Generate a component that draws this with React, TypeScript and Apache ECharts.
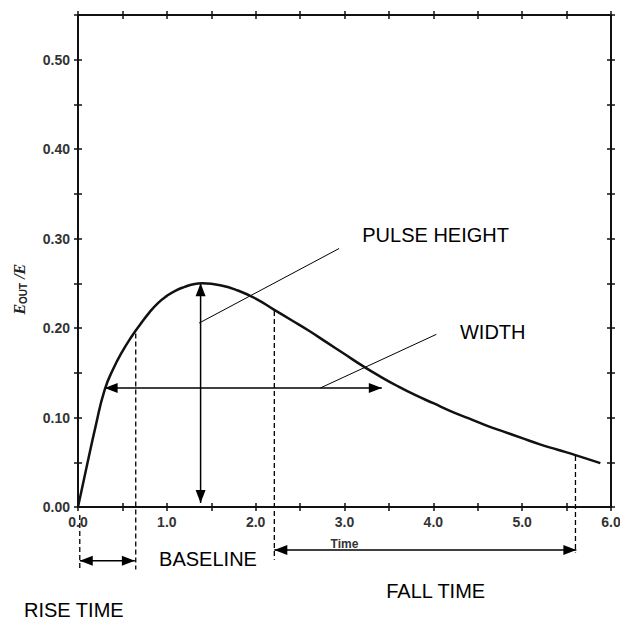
import React, { useEffect, useRef } from 'react';
import * as echarts from 'echarts';

// Curve
const timeValues = [0, 0.1, 0.2, 0.3, 0.4, 0.5, 0.6, 0.7, 0.8, 0.9, 1.0, 1.1, 1.2, 1.3, 1.4, 1.6, 1.8, 2.0, 2.2, 2.4, 2.6, 2.8, 3.0, 3.2, 3.4, 3.6, 3.8, 4.0, 4.2, 4.4, 4.6, 4.8, 5.0, 5.2, 5.4, 5.6, 5.88];
const outputValues = [0, 0.046, 0.091, 0.131, 0.155, 0.174, 0.19, 0.204, 0.217, 0.228, 0.236, 0.242, 0.246, 0.249, 0.25, 0.248, 0.242, 0.233, 0.221, 0.209, 0.197, 0.184, 0.171, 0.158, 0.146, 0.135, 0.125, 0.116, 0.107, 0.099, 0.091, 0.084, 0.077, 0.07, 0.064, 0.058, 0.049];

// Tick labels
const xTickLabels = ['0.0', '1.0', '2.0', '3.0', '4.0', '5.0', '6.0'];
const yTickLabels = ['0.00', '0.10', '0.20', '0.30', '0.40', '0.50'];

// Annotations (data units)
const pulseHeightArrow = [[1.38, 0.0045], [1.38, 0.25]];
const widthArrow = [[0.3, 0.133], [3.42, 0.133]];
const riseTimeArrow = [[0.02, -0.06], [0.64, -0.06]];
const fallTimeArrow = [[2.21, -0.048], [5.61, -0.048]];
const dashedMarkers = [
  [[0.02, -0.009], [0.02, -0.07]],
  [[0.65, 0.194], [0.65, -0.07]],
  [[2.21, 0.219], [2.21, -0.059]],
  [[5.6, 0.057], [5.6, -0.051]],
];
const leaderLines = [
  [[1.363, 0.2056], [2.94, 0.289]],
  [[2.727, 0.133], [4.034, 0.193]],
];
const annotationTexts = ['PULSE HEIGHT', 'WIDTH', 'BASELINE', 'RISE TIME', 'FALL TIME'];
const annotationAnchors = [[3.2, 0.304], [4.3, 0.1955], [0.913, -0.058], [-0.608, -0.115], [3.47, -0.094]];
const yAxisTitleAnchor = [-0.654, 0.2435];

export default function App() {
  const ref = useRef<HTMLDivElement>(null);

  useEffect(() => {
    if (!ref.current) return;
    const chart = echarts.init(ref.current, undefined, { renderer: 'svg' });
    const ink = '#111';
    const lineCommon = { show: true, onZero: false, lineStyle: { color: ink, width: 2 } };
    const xFmt = (v: number) => {
      const i = Math.round(v);
      return Math.abs(v - i) < 1e-6 && xTickLabels[i] !== undefined ? xTickLabels[i] : '';
    };
    const yFmt = (v: number) => {
      const i = Math.round(v * 10);
      return Math.abs(v * 10 - i) < 1e-6 && yTickLabels[i] !== undefined ? yTickLabels[i] : '';
    };
    const labelStyle = { color: '#333', fontSize: 14, fontWeight: 'bold' as const, fontFamily: 'Liberation Sans' };
    const mkX = (position: string, inside: boolean, labels: boolean, name?: string) => ({
      type: 'value', position, min: 0, max: 6, interval: 0.5,
      axisLine: lineCommon,
      axisTick: { show: true, inside, length: 4, lineStyle: { color: ink, width: 1.5 } },
      splitLine: { show: false },
      axisLabel: labels ? { show: true, formatter: xFmt, margin: 8, ...labelStyle } : { show: false },
      name: name || '', nameLocation: 'middle', nameGap: 31,
      nameTextStyle: { color: '#333', fontSize: 12, fontWeight: 'bold', fontFamily: 'Liberation Sans' },
    });
    const mkY = (position: string, inside: boolean, labels: boolean) => ({
      type: 'value', position, min: 0, max: 0.55, interval: 0.05,
      axisLine: lineCommon,
      axisTick: { show: true, inside, length: 4, lineStyle: { color: ink, width: 1.5 } },
      splitLine: { show: false },
      axisLabel: labels ? { show: true, formatter: yFmt, margin: 8, ...labelStyle } : { show: false },
    });

    chart.setOption({
      animation: false,
      backgroundColor: '#fff',
      grid: { left: 78, right: 9, top: 15, bottom: 114, containLabel: false, outerBoundsMode: 'none' },
      xAxis: [
        mkX('bottom', false, true, 'Time'),
        mkX('bottom', true, false),
        mkX('top', false, false),
        mkX('top', true, false),
      ],
      yAxis: [
        mkY('left', false, true),
        mkY('left', true, false),
        mkY('right', false, false),
        mkY('right', true, false),
      ],
      series: [
        {
          type: 'line',
          xAxisIndex: 0,
          yAxisIndex: 0,
          data: timeValues.map((t, i) => [t, outputValues[i]]),
          smooth: 0.5,
          showSymbol: false,
          clip: false,
          lineStyle: { color: ink, width: 2.5 },
        },
      ],
    });

    const P = (pt: number[]) => chart.convertToPixel({ xAxisIndex: 0, yAxisIndex: 0 }, pt) as number[];
    const g: any[] = [];
    const line = (a: number[], b: number[], width: number, dash?: number[]) => {
      const pa = P(a), pb = P(b);
      g.push({
        type: 'line', silent: true,
        shape: { x1: pa[0], y1: pa[1], x2: pb[0], y2: pb[1] },
        style: { stroke: '#000', lineWidth: width, lineDash: dash || null },
      });
    };
    const head = (tipD: number[], fromD: number[], len = 13, half = 5) => {
      const tip = P(tipD), from = P(fromD);
      const dx = tip[0] - from[0], dy = tip[1] - from[1];
      const d = Math.hypot(dx, dy);
      const ux = dx / d, uy = dy / d;
      const bx = tip[0] - ux * len, by = tip[1] - uy * len;
      g.push({
        type: 'polygon', silent: true,
        shape: { points: [[tip[0], tip[1]], [bx - uy * half, by + ux * half], [bx + uy * half, by - ux * half]] },
        style: { fill: '#000' },
      });
    };
    const dblArrow = (arr: number[][], width = 1.5) => {
      line(arr[0], arr[1], width);
      head(arr[0], arr[1]);
      head(arr[1], arr[0]);
    };
    dblArrow(pulseHeightArrow, 1.5);
    dblArrow(widthArrow, 1.5);
    dblArrow(riseTimeArrow, 1.5);
    dblArrow(fallTimeArrow, 1.5);
    dashedMarkers.forEach((m) => line(m[0], m[1], 1.3, [5, 3]));
    leaderLines.forEach((m) => line(m[0], m[1], 1));
    annotationTexts.forEach((t, i) => {
      const p = P(annotationAnchors[i]);
      g.push({
        type: 'text', silent: true, x: p[0], y: p[1],
        style: {
          text: t, fill: '#000', fontSize: 20, fontFamily: 'Liberation Sans',
          align: 'left', verticalAlign: 'middle', textAlign: 'left', textVerticalAlign: 'middle',
        },
      });
    });
    const ya = P(yAxisTitleAnchor);
    g.push({
      type: 'text', silent: true, x: ya[0], y: ya[1], rotation: Math.PI / 2,
      style: {
        text: '{e|E}{s|OUT}{e| /E}',
        fill: '#222',
        fontFamily: 'Liberation Sans',
        align: 'center', verticalAlign: 'middle', textAlign: 'center', textVerticalAlign: 'middle',
        rich: {
          e: { fontSize: 16, fontStyle: 'italic', fontWeight: 'bold', fontFamily: 'Liberation Serif', fill: '#222' },
          s: { fontSize: 10, fontWeight: 'bold', fontFamily: 'Liberation Sans', fill: '#222', padding: [7, 0, 0, 0] },
        },
      },
    });
    chart.setOption({ graphic: g });

    return () => chart.dispose();
  }, []);

  return <div ref={ref} style={{ position: 'fixed', left: 0, top: 0, width: 620, height: 621 }} />;
}
